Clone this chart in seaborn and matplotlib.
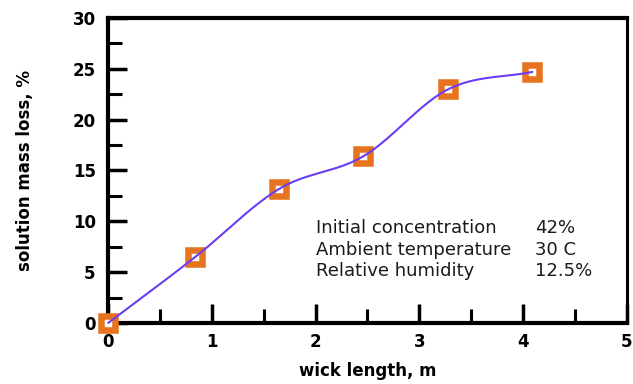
import numpy as np
import pandas as pd
import seaborn as sns
import matplotlib.pyplot as plt
from matplotlib.ticker import MultipleLocator

# values
wick_length = [0.0, 0.84, 1.65, 2.46, 3.28, 4.09]
mass_loss = [0.0, 6.5, 13.2, 16.4, 23.0, 24.7]

info_names = ["Initial concentration", "Ambient temperature", "Relative humidity"]
info_values = ["42%", "30 C", "12.5%"]

df = pd.DataFrame({"wick": wick_length, "loss": mass_loss})


def smooth_curve(x, y, n=40):
    # cubic Hermite through the measured points, just for drawing the line
    x = np.asarray(x); y = np.asarray(y)
    m = np.gradient(y, x)
    xs, ys = [], []
    for i in range(len(x) - 1):
        h = x[i + 1] - x[i]
        t = np.linspace(0, 1, n)
        h00 = 2 * t**3 - 3 * t**2 + 1
        h10 = t**3 - 2 * t**2 + t
        h01 = -2 * t**3 + 3 * t**2
        h11 = t**3 - t**2
        xs.append(x[i] + t * h)
        ys.append(h00 * y[i] + h10 * h * m[i] + h01 * y[i + 1] + h11 * h * m[i + 1])
    return np.concatenate(xs), np.concatenate(ys)


sns.set_style("ticks")
plt.rcParams["font.family"] = ["DejaVu Sans"]

fig, ax = plt.subplots(figsize=(6.33, 3.84), dpi=100)
fig.subplots_adjust(left=0.171, right=0.99, top=0.953, bottom=0.159)

cx, cy = smooth_curve(df["wick"], df["loss"])
sns.scatterplot(data=df, x="wick", y="loss", marker="s", s=108, color="white",
                edgecolor="#E8731E", linewidth=4.7, zorder=3, clip_on=False, ax=ax)
ax.collections[0].set_joinstyle("miter")
ax.plot(cx, cy, color="#6B3CF5", lw=1.5, zorder=4, clip_on=False)

ax.set_xlim(0, 5)
ax.set_ylim(0, 30)
ax.xaxis.set_major_locator(MultipleLocator(1))
ax.xaxis.set_minor_locator(MultipleLocator(0.5))
ax.yaxis.set_major_locator(MultipleLocator(5))
ax.yaxis.set_minor_locator(MultipleLocator(2.5))
ax.tick_params(which="major", direction="in", length=14, width=2.5,
               labelsize=12, top=False, right=False,
               color="black", labelcolor="black")
ax.tick_params(axis="y", which="major", pad=9)
ax.tick_params(axis="x", which="major", pad=7)
ax.tick_params(which="minor", direction="in", length=10, width=2.2,
               top=False, right=False, color="black")
for lab in ax.get_xticklabels() + ax.get_yticklabels():
    lab.set_fontweight("bold")
for side in ["left", "bottom", "top"]:
    ax.spines[side].set_linewidth(3)
ax.spines["right"].set_linewidth(2.2)
for sp in ax.spines.values():
    sp.set_color("black")

ax.set_xlabel("wick length, m", fontsize=12, fontweight="bold", labelpad=8,
              color="black")
ax.set_ylabel("solution mass loss, %", fontsize=12, fontweight="bold", labelpad=28,
              color="black")

for i, (name, val) in enumerate(zip(info_names, info_values)):
    y = 0.311 - i * 0.071
    ax.text(0.40, y, name, transform=ax.transAxes, fontsize=13,
            color="#1a1a1a", va="center")
    ax.text(0.823, y, val, transform=ax.transAxes, fontsize=13,
            color="#1a1a1a", va="center")

fig.savefig("out.png", dpi=100)
